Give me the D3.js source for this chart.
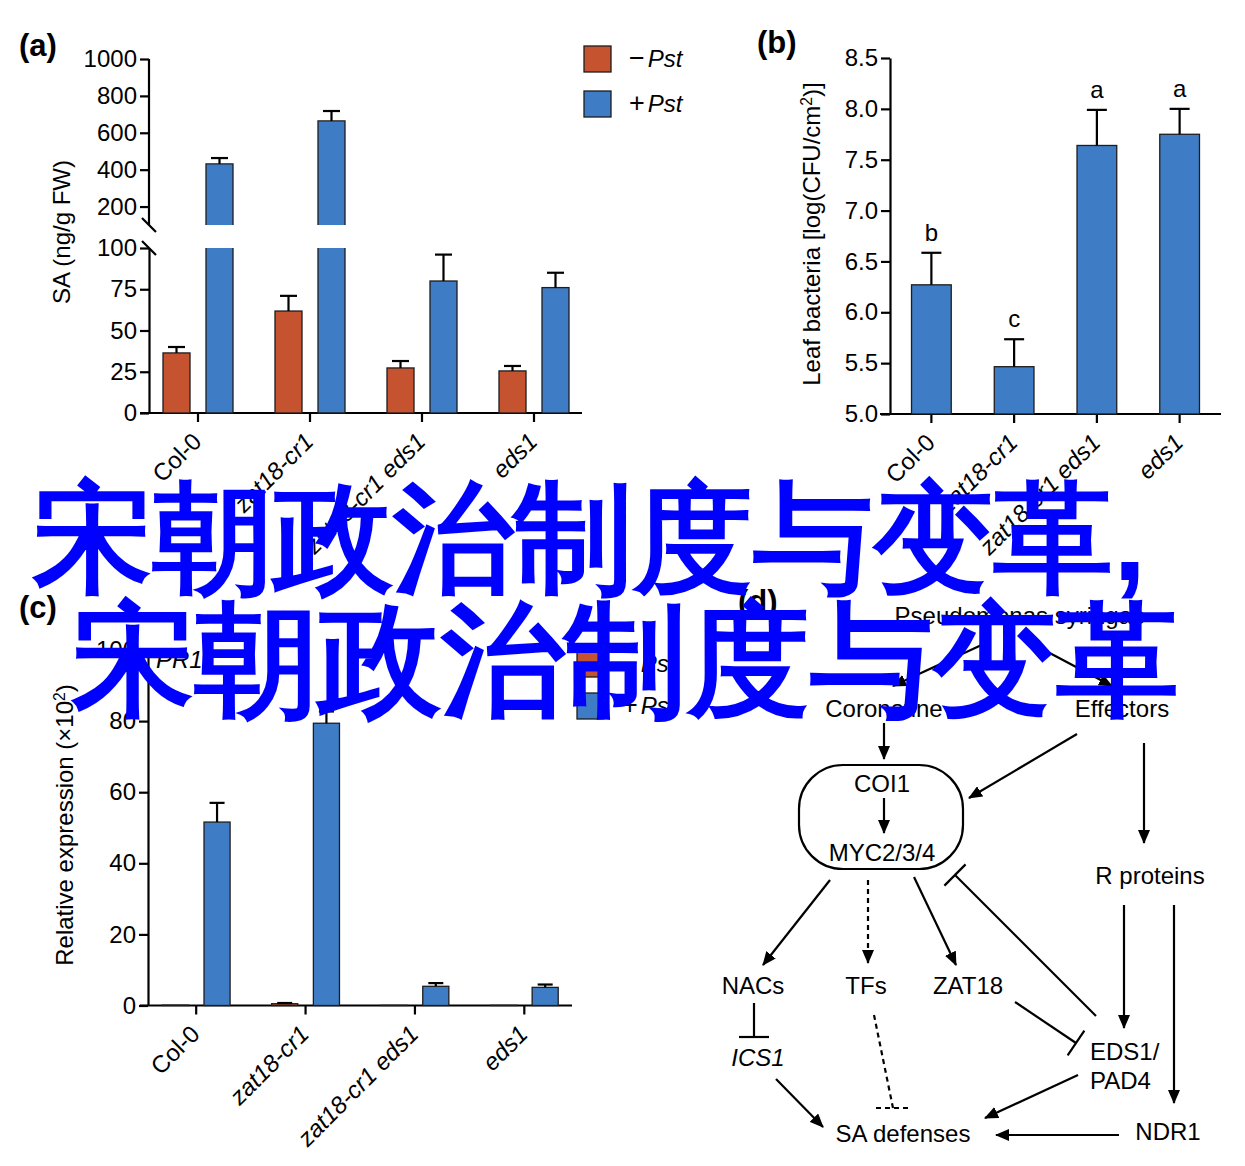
<!DOCTYPE html>
<html><head><meta charset="utf-8">
<script src="https://cdn.jsdelivr.net/npm/d3@7"></script>
<style>
body{margin:0;background:#fff}
svg text{font-family:"Liberation Sans",Arial,Helvetica,sans-serif;fill:#000}
</style></head><body>
<svg id="fig" width="1245" height="1166"></svg>
<script>
// ---------------- data ----------------
const genotypes = ["Col-0", "zat18-cr1", "zat18-cr1 eds1", "eds1"];
const treatments = ["−Pst", "+Pst"];
// (a) SA content, ng/g FW
const saMinus = [36.4, 61.8, 27.3, 25.5];
const saMinusErr = [3.6, 9.2, 4.2, 3.0];
const saPlus = [431, 664, 80, 76];
const saPlusErr = [32, 54, 16, 9];
const saTicksLow = [0, 25, 50, 75, 100];
const saTicksHigh = [200, 400, 600, 800, 1000];
// (b) leaf bacteria log(CFU/cm2)
const bacteria = [6.27, 5.465, 7.64, 7.75];
const bacteriaErr = [0.315, 0.27, 0.35, 0.25];
const bacteriaLetters = ["b", "c", "a", "a"];
const bacteriaTicks = [5.0, 5.5, 6.0, 6.5, 7.0, 7.5, 8.0, 8.5];
// (c) PR1 relative expression (x10^2)
const pr1Minus = [0.1, 0.5, 0.05, 0.05];
const pr1MinusErr = [0.0, 0.2, 0.0, 0.0];
const pr1Plus = [51.6, 79.4, 5.4, 5.1];
const pr1PlusErr = [5.4, 3.3, 0.9, 0.8];
const pr1Ticks = [0, 20, 40, 60, 80, 100];
// (d) diagram labels
const diagramLabels = ["Pseudomonas syringae", "Coronatine", "Effectors", "COI1", "MYC2/3/4",
  "R proteins", "NACs", "TFs", "ZAT18", "ICS1", "EDS1/", "PAD4", "SA defenses", "NDR1"];
const overlayLines = ["宋朝政治制度与变革,", "宋朝政治制度与变革"];

// ---------------- style ----------------
const RED = "#C6532F", BLUE = "#3E7DC5", EDGE = "#1d1d1d";
const FS = 24;
const svg = d3.select("#fig");
const colorOf = t => t === treatments[0] ? RED : BLUE;
const isItalic = g => g !== "Col-0";

function styleAxis(g) {
  g.selectAll("path.domain").attr("stroke", "#000").attr("stroke-width", 2.2);
  g.selectAll(".tick line").attr("stroke", "#000").attr("stroke-width", 2.2);
  g.selectAll(".tick text").attr("font-size", FS).attr("font-family", "Liberation Sans, Arial, sans-serif").attr("fill", "#000");
}
function xAxis(x, y0, xr) {
  const g = svg.append("g").attr("transform", `translate(0,${y0})`)
    .call(d3.axisBottom(x).tickSize(9).tickSizeOuter(0).tickFormat(""));
  g.select("path.domain").attr("d", `M${xr[0]},0H${xr[1]}`);
  styleAxis(g);
  genotypes.forEach(gn => {
    const cx = x(gn) + x.bandwidth() / 2;
    svg.append("text").attr("transform", `translate(${cx + 5},${y0 + 30}) rotate(-45)`)
      .attr("text-anchor", "end").attr("font-size", FS)
      .attr("font-style", isItalic(gn) ? "italic" : "normal").text(gn);
  });
}
function errBar(cx, yTop, yErr, cap) {
  svg.append("line").attr("x1", cx).attr("x2", cx).attr("y1", yTop).attr("y2", yErr)
    .attr("stroke", "#000").attr("stroke-width", 2.2);
  svg.append("line").attr("x1", cx - cap / 2).attr("x2", cx + cap / 2).attr("y1", yErr).attr("y2", yErr)
    .attr("stroke", "#000").attr("stroke-width", 2.2);
}
function yTitle(cx, cy, parts) {
  const t = svg.append("text").attr("transform", `translate(${cx},${cy}) rotate(-90)`)
    .attr("text-anchor", "middle").attr("font-size", FS);
  parts.forEach(p => {
    const s = t.append("tspan").text(p.t);
    if (p.sup) s.attr("baseline-shift", "super").attr("font-size", FS * 0.65);
  });
}
function panelLabel(x, y, s) {
  svg.append("text").attr("x", x).attr("y", y).attr("font-size", 31).attr("font-weight", "bold").text(s);
}
function legend(x, y, gap) {
  treatments.forEach((t, i) => {
    svg.append("rect").attr("x", x).attr("y", y + i * gap).attr("width", 27).attr("height", 26)
      .attr("fill", colorOf(t)).attr("stroke", EDGE).attr("stroke-width", 1.3);
    const tx = svg.append("text").attr("x", x + 45).attr("y", y + i * gap + 21).attr("font-size", FS);
    tx.append("tspan").attr("font-size", 27).text(t.slice(0, 1));
    tx.append("tspan").attr("font-style", "italic").attr("dx", 3).text(t.slice(1));
  });
}

// ================= panel (a) =================
{
  const x0 = d3.scaleBand().domain(genotypes).range([142, 590]);
  const bw = x0.bandwidth();
  const x1 = d3.scaleBand().domain(treatments).range([0.1875 * bw, 0.8125 * bw]).paddingInner(0.372);
  const yLow = d3.scaleLinear().domain([0, 100]).range([413, 248]);
  const yHigh = d3.scaleLinear().domain([100, 1000]).range([225, 59]);
  const yv = v => v <= 100 ? yLow(v) : yHigh(v);

  const gl = svg.append("g").attr("transform", "translate(149,0)")
    .call(d3.axisLeft(yLow).tickValues(saTicksLow).tickFormat(d3.format("d")).tickSize(9).tickSizeOuter(0).tickPadding(3));
  styleAxis(gl);
  const gh = svg.append("g").attr("transform", "translate(149,0)")
    .call(d3.axisLeft(yHigh).tickValues(saTicksHigh).tickFormat(d3.format("d")).tickSize(9).tickSizeOuter(0).tickPadding(3));
  gh.select("path.domain").attr("d", `M0,${yHigh(100)}V${yHigh(1000)}`);
  styleAxis(gh);
  // break marks
  [yHigh(100), yLow(100)].forEach(yy => {
    svg.append("line").attr("x1", 142).attr("x2", 156).attr("y1", yy - 7).attr("y2", yy + 7)
      .attr("stroke", "#000").attr("stroke-width", 2.2);
  });
  xAxis(x0, 413, [140, 582]);

  const series = [saMinus, saPlus], errs = [saMinusErr, saPlusErr];
  treatments.forEach((t, si) => {
    genotypes.forEach((gn, gi) => {
      const v = series[si][gi];
      const bx = x0(gn) + x1(t), w = x1.bandwidth();
      if (v <= 100) {
        svg.append("rect").attr("x", bx).attr("y", yLow(v)).attr("width", w).attr("height", yLow(0) - yLow(v))
          .attr("fill", colorOf(t)).attr("stroke", EDGE).attr("stroke-width", 1.3);
      } else {
        svg.append("rect").attr("x", bx).attr("y", yLow(100)).attr("width", w).attr("height", yLow(0) - yLow(100))
          .attr("fill", colorOf(t));
        svg.append("path").attr("d", `M${bx},${yLow(100)}V${yLow(0)}H${bx + w}V${yLow(100)}`)
          .attr("fill", "none").attr("stroke", EDGE).attr("stroke-width", 1.3);
        svg.append("rect").attr("x", bx).attr("y", yHigh(v)).attr("width", w).attr("height", yHigh(100) - yHigh(v))
          .attr("fill", colorOf(t));
        svg.append("path").attr("d", `M${bx},${yHigh(100)}V${yHigh(v)}H${bx + w}V${yHigh(100)}`)
          .attr("fill", "none").attr("stroke", EDGE).attr("stroke-width", 1.3);
      }
      errBar(bx + w / 2, yv(v), yv(v + errs[si][gi]), 17);
    });
  });
  yTitle(70, 232, [{t: "SA (ng/g FW)"}]);
  legend(584, 46, 45);
  panelLabel(19, 56, "(a)");
}

// ================= panel (b) =================
{
  const x = d3.scaleBand().domain(genotypes).range([890, 1221]).paddingInner(0.52).paddingOuter(0.26);
  const y = d3.scaleLinear().domain([5, 8.5]).range([414, 58]);
  const g = svg.append("g").attr("transform", "translate(890,0)")
    .call(d3.axisLeft(y).tickValues(bacteriaTicks).tickFormat(d3.format(".1f")).tickSize(9).tickSizeOuter(0).tickPadding(3));
  styleAxis(g);
  xAxis(x, 414, [880, 1221]);
  genotypes.forEach((gn, i) => {
    const bx = x(gn), w = x.bandwidth();
    svg.append("rect").attr("x", bx).attr("y", y(bacteria[i])).attr("width", w).attr("height", y(5) - y(bacteria[i]))
      .attr("fill", BLUE).attr("stroke", EDGE).attr("stroke-width", 1.3);
    const ye = y(bacteria[i] + bacteriaErr[i]);
    errBar(bx + w / 2, y(bacteria[i]), ye, 20);
    svg.append("text").attr("x", bx + w / 2).attr("y", ye - 12).attr("text-anchor", "middle")
      .attr("font-size", FS).text(bacteriaLetters[i]);
  });
  yTitle(820, 234, [{t: "Leaf bacteria [log(CFU/cm"}, {t: "2", sup: true}, {t: ")]"}]);
  panelLabel(757, 53, "(b)");
}

// ================= panel (c) =================
{
  const x0 = d3.scaleBand().domain(genotypes).range([141.5, 579]);
  const bw = x0.bandwidth();
  const x1 = d3.scaleBand().domain(treatments).range([0.19 * bw, 0.81 * bw]).paddingInner(0.375);
  const y = d3.scaleLinear().domain([0, 100]).range([1005.5, 650]);
  const g = svg.append("g").attr("transform", "translate(148,0)")
    .call(d3.axisLeft(y).tickValues(pr1Ticks).tickSize(9).tickSizeOuter(0).tickPadding(3));
  styleAxis(g);
  xAxis(x0, 1005.5, [140, 572]);
  const series = [pr1Minus, pr1Plus], errs = [pr1MinusErr, pr1PlusErr];
  treatments.forEach((t, si) => {
    genotypes.forEach((gn, gi) => {
      const v = series[si][gi];
      const bx = x0(gn) + x1(t), w = x1.bandwidth();
      svg.append("rect").attr("x", bx).attr("y", y(v)).attr("width", w).attr("height", y(0) - y(v))
        .attr("fill", colorOf(t)).attr("stroke", EDGE).attr("stroke-width", 1.3);
      if (errs[si][gi] > 0) errBar(bx + w / 2, y(v), y(v + errs[si][gi]), 15);
    });
  });
  svg.append("text").attr("x", 156).attr("y", 668).attr("font-size", FS).attr("font-style", "italic").text("PR1");
  yTitle(73, 825, [{t: "Relative expression (×10"}, {t: "2", sup: true}, {t: ")"}]);
  legend(577, 651, 42);
  panelLabel(19, 618, "(c)");
}

// ================= panel (d) diagram =================
{
  const defs = svg.append("defs");
  defs.append("marker").attr("id", "ah").attr("viewBox", "0 -6 14 12").attr("refX", 13).attr("refY", 0)
    .attr("markerWidth", 14).attr("markerHeight", 12).attr("markerUnits", "userSpaceOnUse").attr("orient", "auto")
    .append("path").attr("d", "M0,-6L14,0L0,6Z").attr("fill", "#000");
  const pos = {
    "Pseudomonas syringae": [1020, 624, "middle"], "Coronatine": [884, 717, "middle"], "Effectors": [1122, 717, "middle"],
    "COI1": [882, 792, "middle"], "MYC2/3/4": [882, 861, "middle"], "R proteins": [1150, 884, "middle"],
    "NACs": [753, 994, "middle"], "TFs": [866, 994, "middle"], "ZAT18": [968, 994, "middle"],
    "ICS1": [758, 1066, "middle"], "EDS1/": [1090, 1060, "start"], "PAD4": [1090, 1089, "start"],
    "SA defenses": [903, 1142, "middle"], "NDR1": [1168, 1140, "middle"]
  };
  diagramLabels.forEach(l => {
    const p = pos[l];
    svg.append("text").attr("x", p[0]).attr("y", p[1]).attr("text-anchor", p[2]).attr("font-size", FS)
      .attr("font-style", l === "ICS1" ? "italic" : "normal").text(l);
  });
  svg.append("rect").attr("x", 799).attr("y", 765).attr("width", 164).attr("height", 104).attr("rx", 44).attr("ry", 44)
    .attr("fill", "none").attr("stroke", "#000").attr("stroke-width", 2.2);
  const edges = [
    [988, 642, 893, 686, "a"], [1044, 650, 1112, 686, "a"], [884, 723, 884, 759, "a"], [884, 798, 884, 833, "a"],
    [1077, 734, 969, 798, "a"], [1144, 743, 1144, 843, "a"], [830, 880, 763, 965, "a"], [868, 880, 868, 963, "ad"],
    [914, 877, 956, 965, "a"], [1096, 1016, 955, 875, "i"], [754, 1003, 754, 1037, "i"], [776, 1079, 823, 1127, "a"],
    [874, 1015, 893, 1108, "d"], [1015, 1002, 1076, 1043, "i"], [1124, 905, 1124, 1028, "a"], [1174, 905, 1174, 1103, "a"],
    [1078, 1075, 985, 1118, "a"], [1119, 1135, 996, 1135, "a"]
  ];
  edges.forEach(([x1, y1, x2, y2, k]) => {
    const ln = svg.append("line").attr("x1", x1).attr("y1", y1).attr("x2", x2).attr("y2", y2)
      .attr("stroke", "#000").attr("stroke-width", 2.2);
    if (k.includes("a")) ln.attr("marker-end", "url(#ah)");
    if (k.includes("d")) ln.attr("stroke-dasharray", "5,4");
    if (k === "i") {
      const dx = x2 - x1, dy = y2 - y1, L = Math.hypot(dx, dy);
      const px = -dy / L * 15, py = dx / L * 15;
      svg.append("line").attr("x1", x2 - px).attr("y1", y2 - py).attr("x2", x2 + px).attr("y2", y2 + py)
        .attr("stroke", "#000").attr("stroke-width", 2.2);
    }
    if (k === "d") {
      svg.append("line").attr("x1", 876).attr("y1", y2).attr("x2", 911).attr("y2", y2)
        .attr("stroke", "#000").attr("stroke-width", 2.2).attr("stroke-dasharray", "5,4");
    }
  });
  panelLabel(738, 612, "(d)");
}

// ================= overlay title =================
svg.append("text").attr("x", 33).attr("y", 580).attr("font-size", 120)
  .attr("font-family", "Noto Sans CJK SC").attr("font-weight", "bold").style("fill", "#0000FF").text(overlayLines[0]);
svg.append("text").attr("x", 72).attr("y", 703).attr("font-size", 123)
  .attr("font-family", "Noto Sans CJK SC").attr("font-weight", "bold").style("fill", "#0000FF").text(overlayLines[1]);
</script>
</body></html>
